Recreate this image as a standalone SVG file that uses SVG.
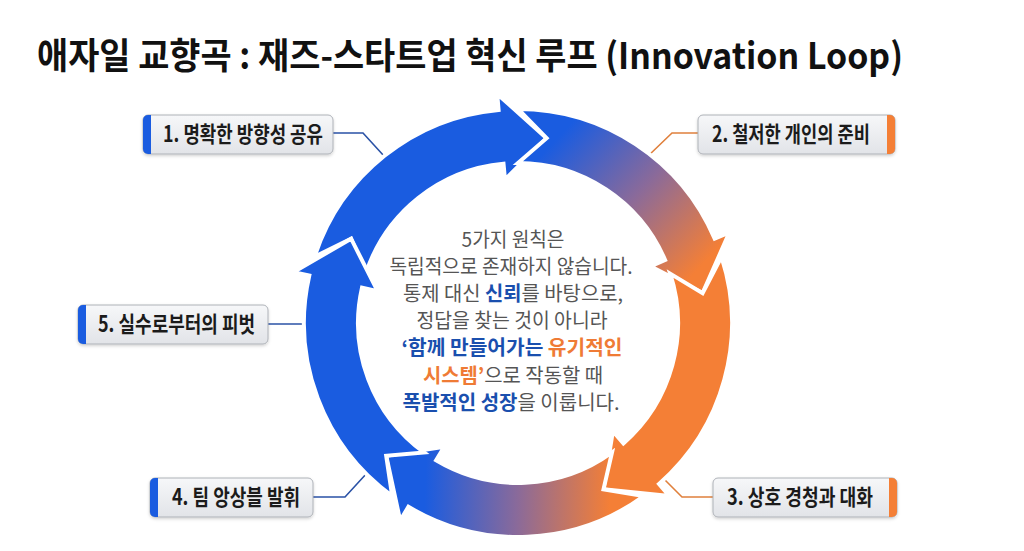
<svg xmlns="http://www.w3.org/2000/svg" width="1024" height="551" viewBox="0 0 1024 551">
<defs>
<style>
.title{font-family:"Noto Sans CJK KR","Noto Sans",sans-serif;font-weight:700;font-size:36px;fill:#111}
.lbl{font-family:"Noto Sans CJK KR","Noto Sans",sans-serif;font-weight:700;font-size:22px;fill:#1b1b1b}
.body{font-family:"Noto Sans CJK KR","Noto Sans",sans-serif;font-weight:400;font-size:20px;fill:#555;text-anchor:middle}
.b{font-weight:700;fill:#1a4fae}
.o{font-weight:700;fill:#ef7b35}
.box{fill:url(#boxg);stroke:#aeb2b8;stroke-width:1;filter:url(#sh)}
.ab{fill:#1a5ce0}
.ao{fill:#f47f36}
.seg{stroke:#fff;stroke-width:4;stroke-linejoin:miter}
.cb{fill:none;stroke:#2a52a6;stroke-width:1.6}
.co{fill:none;stroke:#e0803c;stroke-width:1.6}
</style>
<linearGradient id="boxg" x1="0" y1="0" x2="0" y2="1">
<stop offset="0" stop-color="#f6f7f9"/><stop offset="1" stop-color="#e2e4e8"/>
</linearGradient>
<linearGradient id="g1" gradientUnits="userSpaceOnUse" x1="565" y1="130" x2="705" y2="262">
<stop offset="0" stop-color="#1a5ce0"/><stop offset="0.5" stop-color="#8a6a9a"/><stop offset="1" stop-color="#f47f36"/>
</linearGradient>
<linearGradient id="g3" gradientUnits="userSpaceOnUse" x1="610" y1="500" x2="425" y2="495">
<stop offset="0" stop-color="#f47f36"/><stop offset="0.5" stop-color="#8a6a9a"/><stop offset="1" stop-color="#1a5ce0"/>
</linearGradient>
<filter id="sh" x="-10%" y="-20%" width="120%" height="150%">
<feDropShadow dx="0" dy="1.5" stdDeviation="1.5" flood-color="#000" flood-opacity="0.18"/>
</filter>
</defs>
<rect width="1024" height="551" fill="#fff"/>

<text class="title" x="37" y="69" textLength="866" lengthAdjust="spacingAndGlyphs">애자일 교향곡 : 재즈-스타트업 혁신 루프 (Innovation Loop)</text>

<g id="connectors">
<polyline class="cb" points="333,133 363,133 384,156"/>
<polyline class="co" points="698,133 672,133 647,157"/>
<polyline class="cb" points="268,324 310,324"/>
<polyline class="cb" points="313,497 345,497 367,473"/>
<polyline class="co" points="713,497 682,497 662,477"/>
</g>

<g id="loop">
<path id="seg0" class="seg ab" d="M314.5,256.9 A214,214 0 0 1 498.6,109.9 L497.2,93.9 L546.6,138.2 L505.0,179.6 L503.5,163.7 A160,160 0 0 0 365.8,273.6 L351.1,238.7 Z"/>
<path id="seg1" class="seg" fill="url(#g1)" d="M518,109 A214,214 0 0 1 714.7,238.7 L729.4,232.4 L702.6,293.1 L650.4,266.3 L665.1,260.0 A160,160 0 0 0 518,163 L546.6,138.2 Z"/>
<path id="seg2" class="seg ao" d="M721.5,256.9 A214,214 0 0 1 659.0,484.0 L669.5,496.1 L603.5,489.3 L612.9,431.3 L623.4,443.4 A160,160 0 0 0 670.2,273.6 L702.6,293.1 Z"/>
<path id="seg3" class="seg" fill="url(#g3)" d="M643.8,496.1 A214,214 0 0 1 408.4,506.8 L400.2,520.6 L386.2,455.7 L444.3,446.7 L436.1,460.4 A160,160 0 0 0 612.0,452.4 L603.5,489.3 Z"/>
<path id="seg4" class="seg ab" d="M392.2,496.1 A214,214 0 0 1 309.3,275.6 L293.7,272.1 L351.1,238.7 L377.6,291.1 L362.0,287.6 A160,160 0 0 0 424.0,452.4 L386.2,455.7 Z"/>
</g>

<g id="center-text">
<text class="body" x="513" y="247" textLength="103" lengthAdjust="spacingAndGlyphs">5가지 원칙은</text>
<text class="body" x="511" y="274" textLength="243" lengthAdjust="spacingAndGlyphs">독립적으로 존재하지 않습니다.</text>
<text class="body" x="513" y="301" textLength="220" lengthAdjust="spacingAndGlyphs">통제 대신 <tspan class="b">신뢰</tspan>를 바탕으로,</text>
<text class="body" x="512" y="328" textLength="191" lengthAdjust="spacingAndGlyphs">정답을 찾는 것이 아니라</text>
<text class="body" x="512" y="355" textLength="221" lengthAdjust="spacingAndGlyphs"><tspan class="b">‘함께 만들어가는</tspan> <tspan class="o">유기적인</tspan></text>
<text class="body" x="513" y="383" textLength="180" lengthAdjust="spacingAndGlyphs"><tspan class="o">시스템’</tspan>으로 작동할 때</text>
<text class="body" x="511" y="410" textLength="217" lengthAdjust="spacingAndGlyphs"><tspan class="b">폭발적인 성장</tspan>을 이룹니다.</text>
</g>

<g id="node1">
<rect class="box" x="143" y="115" width="190" height="39" rx="5"/>
<path class="ab" d="M151,115 H148 A5,5 0 0 0 143,120 V149 A5,5 0 0 0 148,154 H151 Z"/>
<text class="lbl" x="163" y="142" textLength="160" lengthAdjust="spacingAndGlyphs">1. 명확한 방향성 공유</text>
</g>
<g id="node2">
<rect class="box" x="698" y="115" width="197" height="39" rx="5"/>
<path class="ao" d="M887,115 H890 A5,5 0 0 1 895,120 V149 A5,5 0 0 1 890,154 H887 Z"/>
<text class="lbl" x="712" y="142" textLength="158" lengthAdjust="spacingAndGlyphs">2. 철저한 개인의 준비</text>
</g>
<g id="node3">
<rect class="box" x="713" y="478" width="184" height="39" rx="5"/>
<path class="ao" d="M889,478 H892 A5,5 0 0 1 897,483 V512 A5,5 0 0 1 892,517 H889 Z"/>
<text class="lbl" x="727" y="505" textLength="146" lengthAdjust="spacingAndGlyphs">3. 상호 경청과 대화</text>
</g>
<g id="node4">
<rect class="box" x="150" y="478" width="163" height="39" rx="5"/>
<path class="ab" d="M158,478 H155 A5,5 0 0 0 150,483 V512 A5,5 0 0 0 155,517 H158 Z"/>
<text class="lbl" x="172" y="505" textLength="128" lengthAdjust="spacingAndGlyphs">4. 팀 앙상블 발휘</text>
</g>
<g id="node5">
<rect class="box" x="78" y="305" width="190" height="39" rx="5"/>
<path class="ab" d="M86,305 H83 A5,5 0 0 0 78,310 V339 A5,5 0 0 0 83,344 H86 Z"/>
<text class="lbl" x="98" y="332" textLength="157" lengthAdjust="spacingAndGlyphs">5. 실수로부터의 피벗</text>
</g>
</svg>
